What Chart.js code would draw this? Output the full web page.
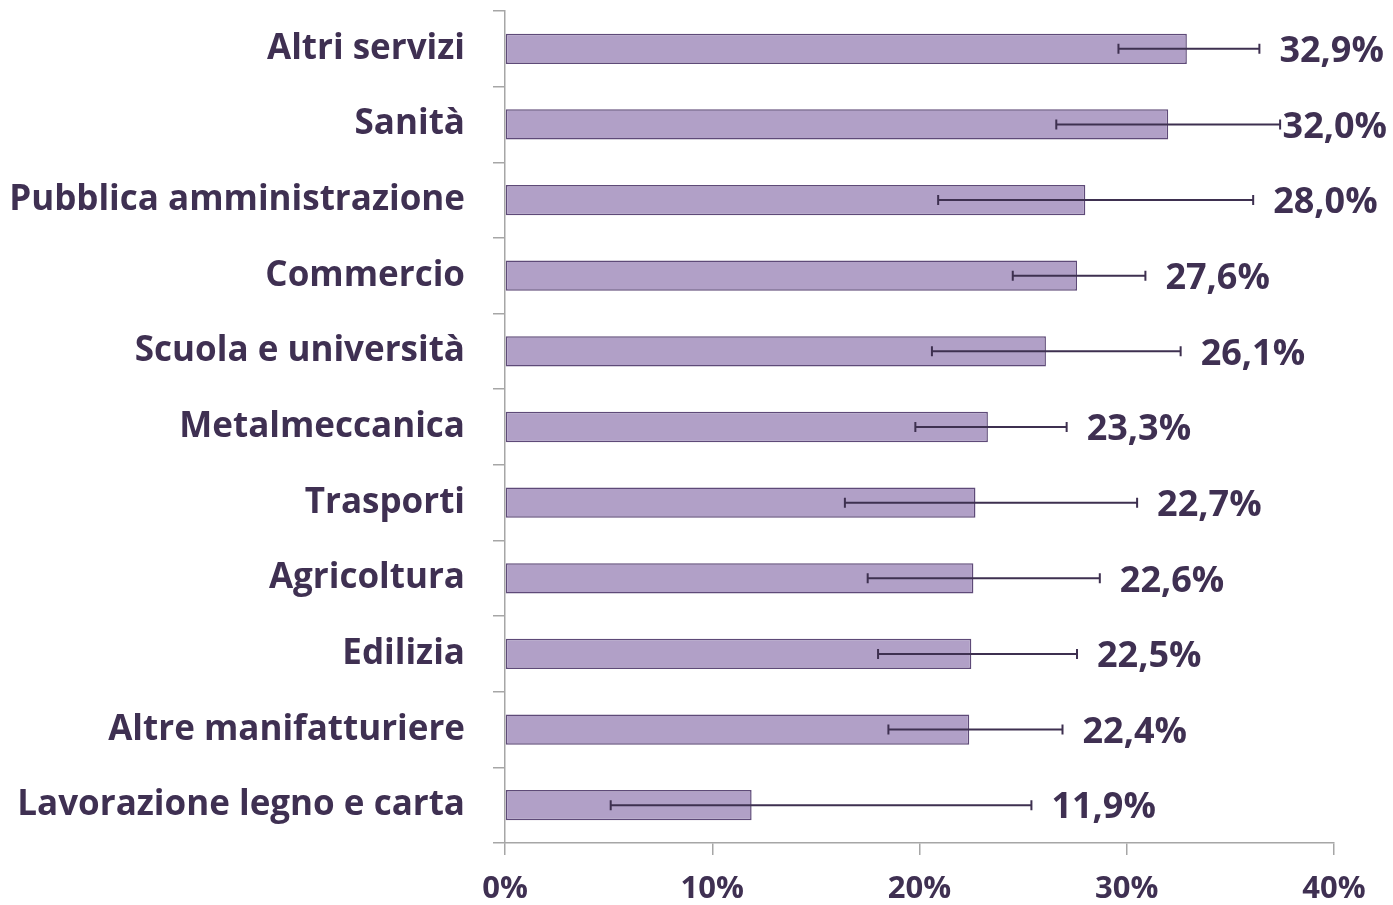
<!DOCTYPE html>
<html>
<head>
<meta charset="utf-8">
<script src="https://cdn.jsdelivr.net/npm/chart.js@4"></script>
<style>
  html, body { margin: 0; padding: 0; background: #fff; }
  #wrap { width: 1393px; height: 905px; }
</style>
</head>
<body>
<div id="wrap"><canvas id="myChart"></canvas></div>
<script>
const categories = [
  "Altri servizi",
  "Sanità",
  "Pubblica amministrazione",
  "Commercio",
  "Scuola e università",
  "Metalmeccanica",
  "Trasporti",
  "Agricoltura",
  "Edilizia",
  "Altre manifatturiere",
  "Lavorazione legno e carta",
];
const values = [32.9, 32.0, 28.0, 27.6, 26.1, 23.3, 22.7, 22.6, 22.5, 22.4, 11.9];
const errLow = [29.6, 26.6, 20.9, 24.5, 20.6, 19.8, 16.4, 17.5, 18.0, 18.5, 5.1];
const errHigh = [36.4, 37.4, 36.1, 30.9, 32.6, 27.1, 30.5, 28.7, 27.6, 26.9, 25.4];
const xTicks = [0, 10, 20, 30, 40];

const textColor = "#3f3052";
const font = "'Open Sans', sans-serif";

// error bars + value labels
const extras = {
  id: "extras",
  afterDatasetsDraw(chart) {
    const ctx = chart.ctx;
    const x = chart.scales.x;
    const y = chart.scales.y;
    ctx.save();
    ctx.strokeStyle = "#3e3050";
    ctx.lineWidth = 2;
    values.forEach((v, i) => {
      const yc = y.getPixelForValue(i);
      const x1 = x.getPixelForValue(errLow[i]);
      const x2 = x.getPixelForValue(errHigh[i]);
      ctx.beginPath();
      ctx.moveTo(x1, yc);
      ctx.lineTo(x2, yc);
      ctx.moveTo(x1, yc - 5);
      ctx.lineTo(x1, yc + 5);
      ctx.moveTo(x2, yc - 5);
      ctx.lineTo(x2, yc + 5);
      ctx.stroke();
    });
    ctx.fillStyle = textColor;
    ctx.font = "bold 36px " + font;
    ctx.textAlign = "left";
    ctx.textBaseline = "middle";
    values.forEach((v, i) => {
      const txt = v.toFixed(1).replace(".", ",") + "%";
      const w = ctx.measureText(txt).width;
      const yc = y.getPixelForValue(i);
      const xe = x.getPixelForValue(errHigh[i]);
      // keep the label inside the canvas (it may sit over the error bar)
      const xl = Math.min(xe + 20, chart.width - w - 6);
      ctx.fillText(txt, xl, yc + 3);
    });
    ctx.restore();
  },
};

new Chart(document.getElementById("myChart"), {
  type: "bar",
  data: {
    labels: categories,
    datasets: [
      {
        data: values,
        backgroundColor: "#b1a0c7",
        borderColor: "#5e4a78",
        borderWidth: 1.5,
        borderSkipped: false,
        barPercentage: 0.4,
        categoryPercentage: 1,
      },
    ],
  },
  options: {
    indexAxis: "y",
    responsive: true,
    maintainAspectRatio: false,
    animation: false,
    layout: { padding: { top: 11, right: 59, left: 0, bottom: 0 } },
    plugins: {
      legend: { display: false },
      tooltip: { enabled: false },
    },
    scales: {
      x: {
        min: 0,
        max: 40,
        afterBuildTicks(scale) {
          scale.ticks = xTicks.map((v) => ({ value: v }));
        },
        afterFit(scale) {
          scale.height = 62;
          scale.paddingLeft = 0;
          scale.paddingRight = 0;
        },
        grid: {
          drawOnChartArea: false,
          drawTicks: true,
          tickLength: 12,
          color: "#a6a6a6",
          lineWidth: 1.5,
        },
        border: { color: "#a6a6a6", width: 1.5 },
        ticks: {
          padding: 16,
          color: textColor,
          font: { family: font, size: 31, weight: "bold" },
          callback: (v) => v + "%",
        },
      },
      y: {
        offset: true,
        afterFit(scale) {
          scale.width = 505;
          scale.paddingTop = 0;
          scale.paddingBottom = 0;
        },
        grid: {
          offset: true,
          drawOnChartArea: false,
          drawTicks: true,
          tickLength: 12,
          color: "#a6a6a6",
          lineWidth: 1.5,
        },
        border: { color: "#a6a6a6", width: 1.5 },
        ticks: {
          padding: 28,
          color: textColor,
          font: { family: font, size: 35, weight: "bold" },
        },
      },
    },
  },
  plugins: [extras],
});
</script>
</body>
</html>
